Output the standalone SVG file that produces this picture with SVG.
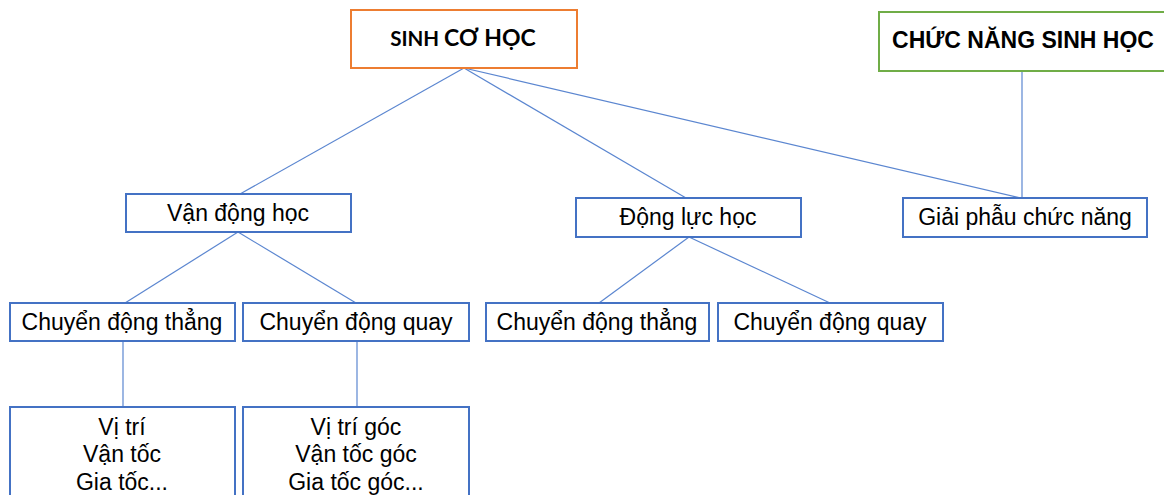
<svg xmlns="http://www.w3.org/2000/svg" width="1164" height="495" viewBox="0 0 1164 495">
<style>
.box{fill:#fff;stroke:#4472C4;stroke-width:2}
.t{font-family:"Liberation Sans",Arial,sans-serif;font-size:23px;fill:#000;text-anchor:middle}
.conn line{stroke:#5B86D0;stroke-width:1.2}
</style>
<rect width="1164" height="495" fill="#fff"/>
<g class="conn">
<line x1="464" y1="68" x2="240" y2="194"/>
<line x1="464" y1="68" x2="686" y2="198"/>
<line x1="464" y1="68" x2="1021" y2="198"/>
<line x1="1022" y1="71" x2="1022" y2="198"/>
<line x1="238" y1="232" x2="125" y2="303"/>
<line x1="238" y1="232" x2="356" y2="303"/>
<line x1="689" y1="237" x2="599" y2="303"/>
<line x1="689" y1="237" x2="830" y2="303"/>
<line x1="123" y1="341" x2="123" y2="407"/>
<line x1="357" y1="341" x2="357" y2="407"/>
</g>
<g id="sinh-co-hoc">
<rect x="351" y="10" width="226" height="58" fill="#fff" stroke="#ED7D31" stroke-width="2"/>
<text x="463" y="46" text-anchor="middle" font-family="Lato,'Open Sans',sans-serif" font-weight="bold" fill="#000"><tspan font-size="20.5">SINH </tspan><tspan font-size="23">CƠ HỌC</tspan></text>
</g>
<g id="chuc-nang">
<rect x="879" y="12" width="290" height="59" fill="#fff" stroke="#70AD47" stroke-width="2"/>
<text x="1023" y="48" text-anchor="middle" font-family="'Liberation Sans',Arial,sans-serif" font-weight="bold" font-size="23" fill="#000">CHỨC NĂNG SINH HỌC</text>
</g>
<g id="van-dong-hoc">
<rect class="box" x="126" y="194" width="225" height="38"/>
<text class="t" x="238" y="221">Vận động học</text>
</g>
<g id="dong-luc-hoc">
<rect class="box" x="576" y="198" width="225" height="39"/>
<text class="t" x="688" y="225">Động lực học</text>
</g>
<g id="giai-phau">
<rect class="box" x="903" y="198" width="244" height="39"/>
<text class="t" x="1025" y="225">Giải phẫu chức năng</text>
</g>
<g id="cd-thang-1">
<rect class="box" x="10" y="303" width="225" height="38"/>
<text class="t" x="122" y="330">Chuyển động thẳng</text>
</g>
<g id="cd-quay-1">
<rect class="box" x="243" y="303" width="226" height="38"/>
<text class="t" x="356" y="330">Chuyển động quay</text>
</g>
<g id="cd-thang-2">
<rect class="box" x="486" y="303" width="223" height="38"/>
<text class="t" x="597" y="330">Chuyển động thẳng</text>
</g>
<g id="cd-quay-2">
<rect class="box" x="718" y="303" width="225" height="38"/>
<text class="t" x="830" y="330">Chuyển động quay</text>
</g>
<g id="thang-detail">
<rect class="box" x="10" y="407" width="225" height="100"/>
<text class="t" x="122" y="435">Vị trí</text>
<text class="t" x="122" y="462">Vận tốc</text>
<text class="t" x="122" y="490">Gia tốc...</text>
</g>
<g id="quay-detail">
<rect class="box" x="243" y="407" width="226" height="100"/>
<text class="t" x="356" y="435">Vị trí góc</text>
<text class="t" x="356" y="462">Vận tốc góc</text>
<text class="t" x="356" y="490">Gia tốc góc...</text>
</g>
</svg>
